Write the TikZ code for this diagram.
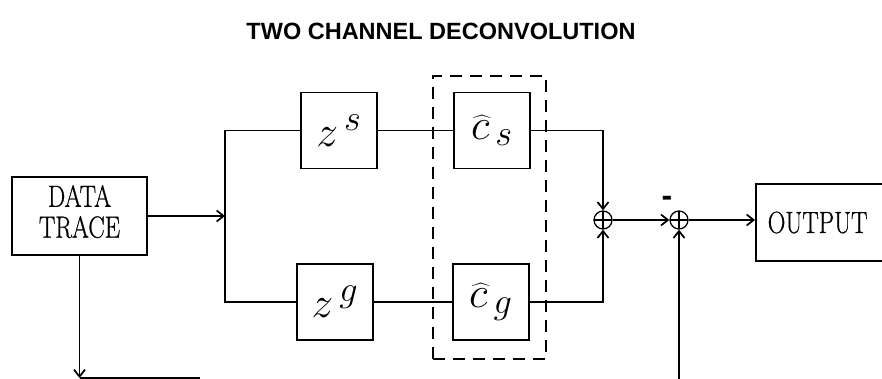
\documentclass[tikz,border=0pt]{standalone}
\usepackage{fontspec}
\usetikzlibrary{arrows.meta}
\newfontfamily\titlefont{Liberation Sans}
\newfontfamily\lblfont{Latin Modern Roman}[FakeBold=0.8]
\newcommand{\vstretch}[1]{\scalebox{1}[1.25]{#1}}
\newcommand{\bigmath}[1]{\scalebox{1.75}{\Huge$#1$}}
\begin{document}
\begin{tikzpicture}[x=1pt,y=-1pt,
  box/.style={draw, line width=1.5pt, minimum width=76pt, minimum height=76pt, inner sep=0pt},
  conn/.style={line width=1.3pt},
  arr/.style={conn, -{Straight Barb[length=7pt,width=11pt,line width=1.7pt]}},
  sumnode/.style={draw, circle, line width=1.3pt, minimum size=18pt, inner sep=0pt,
    path picture={\draw[line width=1.1pt] (path picture bounding box.north) -- (path picture bounding box.south)
      (path picture bounding box.west) -- (path picture bounding box.east);}},
  lbl/.style={font=\lblfont\fontsize{24.5}{24.5}\selectfont}
]
\useasboundingbox (0,0) rectangle (882,379);
\clip (0,0) rectangle (882,379);
% title
\node[font=\titlefont\bfseries\fontsize{23.5}{24}\selectfont] (title) at (441,31) {TWO CHANNEL DECONVOLUTION};
% blocks
\node[box, minimum width=135pt, minimum height=78pt, lbl] (data) at (79.5,216)
  {\vstretch{\begin{tabular}{@{}c@{}}DATA\\TRACE\end{tabular}}};
\node[box] (zs) at (339,130.5) {\bigmath{z^{\,s}}};
\node[box] (zg) at (335,302) {\bigmath{z^{\,g}}};
\node[box] (cs) at (492,130.5) {\bigmath{\widehat{c}_{\,s}}};
\node[box] (cg) at (491,302) {\bigmath{\widehat{c}_{\,g}}};
\node[draw, line width=1.5pt, dash pattern=on 12pt off 8pt, minimum width=113pt, minimum height=283pt, inner sep=0pt] (dashbox) at (489.5,217.5) {};
\node[sumnode] (sum1) at (603,220) {};
\node[sumnode] (sum2) at (679,220) {};
\node[font=\titlefont\bfseries\fontsize{32}{32}\selectfont] (minus) at (667,201) {-};
\node[draw, line width=1.5pt, anchor=west, minimum height=77pt, text width=120pt, inner xsep=12pt, align=left, lbl] (out) at (755,222.5) {\vstretch{OUTPUT}};
% coordinates
\coordinate (j) at (225,216);
\coordinate (b1) at (79.5,378);
\coordinate (b1e) at (200,378);
\coordinate (b2) at (679,379);
% connectors
\draw[arr] (data) -- (j);
\draw[conn] (zs) -| (j) |- (zg);
\draw[conn] (zs) -- (cs);
\draw[conn] (zg) -- (cg);
\draw[arr] (cs) -| (sum1);
\draw[arr] (cg) -| (sum1);
\draw[arr] (sum1) -- (sum2);
\draw[arr] (sum2) -- (sum2 -| out.west);
\draw[arr] (b2) -- (sum2);
\draw[arr] (data) -- (b1);
\draw[conn] (b1) -- (b1e);
\end{tikzpicture}
\end{document}
